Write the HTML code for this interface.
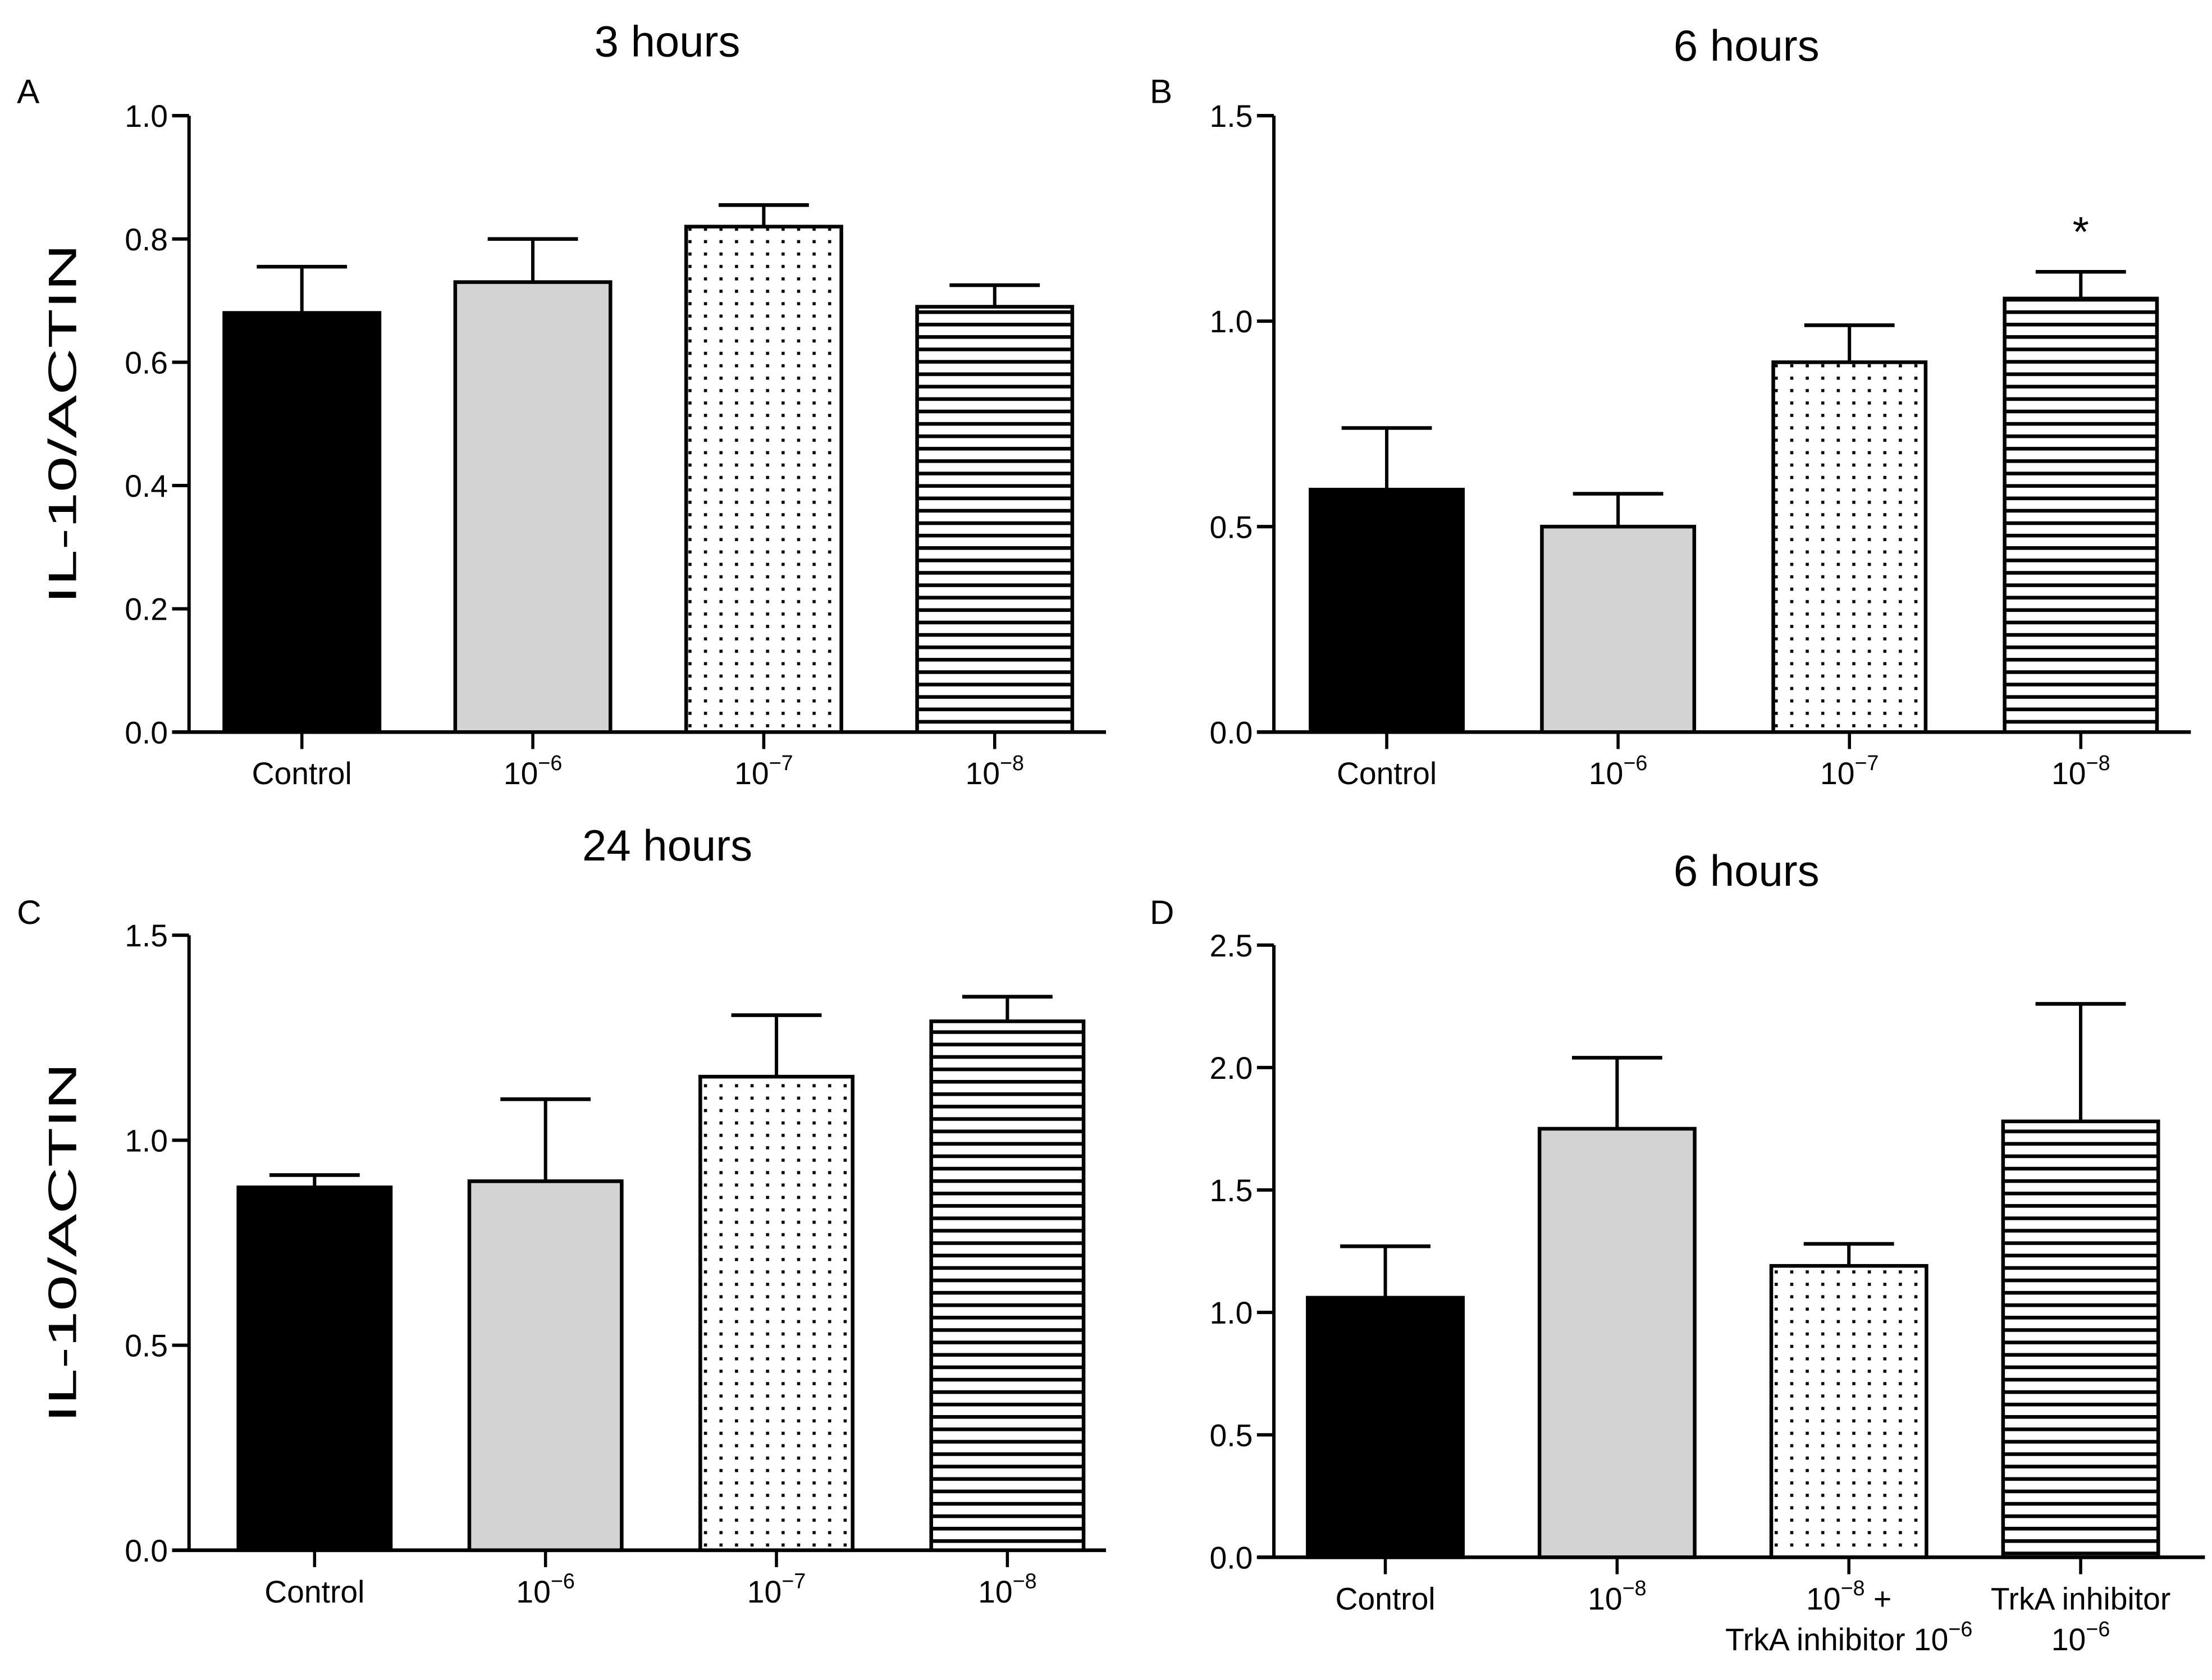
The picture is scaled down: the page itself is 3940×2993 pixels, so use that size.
<!DOCTYPE html>
<html><head><meta charset="utf-8"><style>
html,body{margin:0;padding:0;background:#fff;}
svg{display:block;}
text{font-family:"Liberation Sans",Arial,sans-serif;fill:#000;}
</style></head><body>
<svg id="fig" width="3940" height="2993" viewBox="0 0 1568 1191" preserveAspectRatio="none" xmlns="http://www.w3.org/2000/svg">
<defs>
<pattern id="dots" patternUnits="userSpaceOnUse" width="11" height="8.8">
<rect x="4" y="3" width="2.2" height="2.2" fill="#000"/>
</pattern>
<pattern id="stripes" patternUnits="userSpaceOnUse" width="20" height="8.8">
<rect x="0" y="0" width="20" height="2.6" fill="#000"/>
</pattern>
</defs>
</svg>
<script>
const panelAValues=[0.68,0.73,0.82,0.69];
const panelAErrors=[0.755,0.80,0.855,0.725];
const panelBValues=[0.59,0.50,0.90,1.055];
const panelBErrors=[0.74,0.58,0.99,1.12];
const panelCValues=[0.885,0.90,1.155,1.29];
const panelCErrors=[0.915,1.10,1.305,1.35];
const panelDValues=[1.06,1.75,1.19,1.78];
const panelDErrors=[1.27,2.04,1.28,2.26];
const ticksA=[0,0.2,0.4,0.6,0.8,1.0];
const ticksB=[0,0.5,1.0,1.5];
const ticksD=[0,0.5,1.0,1.5,2.0,2.5];
const catsABC=[["Control"],["10","−6"],["10","−7"],["10","−8"]];
const catsD=[["Control"],["10","−8"],["10","−8"," +","TrkA inhibitor 10","−6"],["TrkA inhibitor","10","−6"]];

const svg=document.getElementById('fig');
const NS='http://www.w3.org/2000/svg';
function mk(tag,attrs,parent){const e=document.createElementNS(NS,tag);for(const k in attrs)e.setAttribute(k,attrs[k]);(parent||svg).appendChild(e);return e;}
const fills=['#000','#d3d3d3','url(#dots)','url(#stripes)'];

function panel(p){
  const g=mk('g',{});
  
  
  const y=v=>p.y0-(v/p.max)*(p.y0-p.yTop);
  const bx=i=>p.bx0+i*p.step;
  const t=mk('text',{x:p.titleX,y:p.titleY,'font-size':31,'text-anchor':'middle'},g);t.textContent=p.title;
  
  const l=mk('text',{x:p.letterX,y:p.letterY,'font-size':24},g);l.textContent=p.id;
  
  if(p.ylabel){const yl=mk('text',{x:0,y:0,'font-size':28,'text-anchor':'middle',textLength:255,lengthAdjust:'spacingAndGlyphs',transform:`translate(${p.axisX-80},${(p.y0+p.yTop)/2}) rotate(-90)`},g);yl.textContent='IL-10/ACTIN';
    }
  p.values.forEach((v,i)=>{
    const x=bx(i);
    const e=mk('line',{x1:x+p.bw/2,x2:x+p.bw/2,y1:y(v),y2:y(p.errors[i]),stroke:'#000','stroke-width':2.4},g);
    
    const c=mk('line',{x1:x+p.bw/2-32,x2:x+p.bw/2+32,y1:y(p.errors[i]),y2:y(p.errors[i]),stroke:'#000','stroke-width':2.6},g);
    
    if(i>=2){mk('rect',{x:x,y:y(v),width:p.bw,height:p.y0-y(v),fill:'#fff'},g);}
    const r=mk('rect',{x:x,y:y(v),width:p.bw,height:p.y0-y(v),fill:fills[i],stroke:'#000','stroke-width':2.6},g);
    
    const cx=x+p.bw/2;
    mk('line',{x1:cx,x2:cx,y1:p.y0,y2:p.y0+12,stroke:'#000','stroke-width':2.2},g);
    const lab=p.cats[i];
    const fs=22,ss=15;
    const lt=mk('text',{x:cx,y:p.y0+37,'font-size':fs,'text-anchor':'middle'},g);
    
    if(lab.length===1){lt.textContent=lab[0];}
    else if(lab.length===2){lt.appendChild(document.createTextNode(lab[0]));const s=mk('tspan',{dy:-10,'font-size':ss},lt);s.textContent=lab[1];}
    else if(lab.length===5){lt.appendChild(document.createTextNode(lab[0]));const s=mk('tspan',{dy:-10,'font-size':ss},lt);s.textContent=lab[1];const s2=mk('tspan',{dy:10},lt);s2.textContent=lab[2];
      const l2=mk('text',{x:cx,y:p.y0+66,'font-size':fs,'text-anchor':'middle'},g);l2.appendChild(document.createTextNode(lab[3]));const s3=mk('tspan',{dy:-10,'font-size':ss},l2);s3.textContent=lab[4];}
    else {lt.textContent=lab[0];const l2=mk('text',{x:cx,y:p.y0+66,'font-size':fs,'text-anchor':'middle'},g);l2.appendChild(document.createTextNode(lab[1]));const s3=mk('tspan',{dy:-10,'font-size':ss},l2);s3.textContent=lab[2];}
  });
  const ya=mk('line',{x1:p.axisX,x2:p.axisX,y1:p.yTop,y2:p.y0,stroke:'#000','stroke-width':2.4},g);
  
  const xa=mk('line',{x1:p.axisX-12,x2:p.axisX+p.xLen,y1:p.y0,y2:p.y0,stroke:'#000','stroke-width':2.6},g);
  
  p.ticks.forEach(tv=>{
    mk('line',{x1:p.axisX-12,x2:p.axisX,y1:y(tv),y2:y(tv),stroke:'#000','stroke-width':2.4},g);
    const tl=mk('text',{x:p.axisX-15,y:y(tv)+8,'font-size':22,'text-anchor':'end'},g);tl.textContent=tv.toFixed(1);
    
  });
  if(p.star!=null){const s=mk('text',{x:bx(p.star)+p.bw/2,y:y(p.errors[p.star])-18,'font-size':30,'text-anchor':'middle'},g);s.textContent='*';
    }
}
panel({id:'A',title:'3 hours',titleX:473,titleY:40,letterX:12,letterY:73,axisX:134,yTop:82,y0:519,max:1.0,ticks:ticksA,values:panelAValues,errors:panelAErrors,bx0:159,step:163.7,bw:110,xLen:650,cats:catsABC,ylabel:true});
panel({id:'B',title:'6 hours',titleX:1238,titleY:43,letterX:815,letterY:73,axisX:903,yTop:82,y0:519,max:1.5,ticks:ticksB,values:panelBValues,errors:panelBErrors,bx0:929,step:164,bw:108,xLen:650,cats:catsABC,star:3});
panel({id:'C',title:'24 hours',titleX:473,titleY:610,letterX:12,letterY:655,axisX:134,yTop:663,y0:1099,max:1.5,ticks:ticksB,values:panelCValues,errors:panelCErrors,bx0:169,step:163.7,bw:108,xLen:650,cats:catsABC,ylabel:true});
panel({id:'D',title:'6 hours',titleX:1238,titleY:628,letterX:815,letterY:655,axisX:903,yTop:670,y0:1104,max:2.5,ticks:ticksD,values:panelDValues,errors:panelDErrors,bx0:927,step:164.3,bw:110,xLen:660,cats:catsD});
</script>
</body></html>
